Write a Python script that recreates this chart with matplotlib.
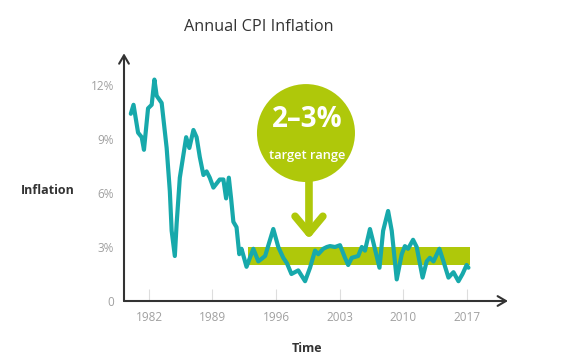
import matplotlib
matplotlib.use('Agg')
import matplotlib.pyplot as plt
from matplotlib.patches import Ellipse, Rectangle

plt.rcParams['font.family'] = ['Open Sans', 'DejaVu Sans']

# CPI inflation (year, percent)
years = [1980.0, 1980.3, 1980.8, 1981.2, 1981.45, 1981.9, 1982.3, 1982.6, 1982.85, 1983.4,
         1983.95, 1984.3, 1984.5, 1984.85, 1985.05, 1985.4, 1986.1, 1986.45, 1986.9, 1987.25,
         1987.6, 1988.0, 1988.35, 1988.7, 1989.1, 1989.8, 1990.2, 1990.5, 1990.8, 1991.05,
         1991.3, 1991.65, 1991.95, 1992.2, 1992.75, 1993.5, 1994.05, 1994.8, 1995.7, 1996.25,
         1996.8, 1997.2, 1997.7, 1998.45, 1999.2, 1999.75, 2000.3, 2000.65, 2001.2, 2001.6,
         2001.95, 2002.5, 2003.05, 2003.6, 2003.95, 2004.35, 2005.05, 2005.45, 2005.8, 2006.35,
         2006.7, 2007.4, 2007.8, 2008.35, 2008.75, 2009.3, 2009.85, 2010.2, 2010.55, 2011.1,
         2011.5, 2012.15, 2012.6, 2012.95, 2013.35, 2014.0, 2014.45, 2015.0, 2015.55, 2016.1,
         2016.55, 2017.0, 2017.2]
inflation = [10.4, 10.9, 9.35, 9.1, 8.4, 10.7, 10.9, 12.3, 11.4, 11.0,
             8.5, 6.1, 3.9, 2.5, 4.3, 6.85, 9.1, 8.5, 9.5, 9.1,
             8.0, 7.0, 7.2, 6.85, 6.3, 6.75, 6.75, 5.7, 6.85, 5.7,
             4.4, 4.1, 2.6, 2.9, 1.9, 2.9, 2.2, 2.5, 4.0, 3.0,
             2.4, 2.1, 1.5, 1.7, 1.1, 1.85, 2.8, 2.6, 2.9, 3.0,
             3.05, 3.0, 3.1, 2.4, 2.0, 2.4, 2.5, 3.0, 2.8, 4.0,
             3.3, 1.85, 3.9, 5.0, 3.9, 1.2, 2.6, 3.05, 2.9, 3.4,
             3.0, 1.3, 2.2, 2.4, 2.2, 2.9, 2.2, 1.3, 1.6, 1.1,
             1.5, 2.0, 1.85]

target_low, target_high = 2, 3
band_start, band_end = 1992.9, 2017.4

xticks = [1982, 1989, 1996, 2003, 2010, 2017]
yticks = [0, 3, 6, 9, 12]
ylabels = ['0', '3%', '6%', '9%', '12%']

teal = '#17a9ab'
lime = '#afc80a'
dark = '#333333'
grey = '#a0a0a0'

fig = plt.figure(figsize=(5.8, 3.61), dpi=100)
ax = fig.add_axes([124/580, 60/361, 384/580, 247.7/361])
ax.set_xlim(1979.25, 2021.56)
ax.set_ylim(0, 13.76)

# target band
ax.add_patch(Rectangle((band_start, target_low), band_end - band_start,
                       target_high - target_low, color=lime, lw=0, zorder=1))
ax.plot(years, inflation, color=teal, lw=3, solid_joinstyle='round',
        solid_capstyle='round', zorder=2)

# bubble and arrow
ax.add_patch(Ellipse((1999.3, 9.33), 10.8, 5.44, color=lime, lw=0, zorder=3))
ax.annotate('', xy=(1999.63, 3.45), xytext=(1999.63, 7.0),
            arrowprops=dict(arrowstyle='->,head_length=1.2,head_width=1.0',
                            color=lime, lw=5.5, shrinkA=0, shrinkB=0),
            zorder=3)
ax.text(1999.4, 10.1, '2\u20133%', color='white', fontsize=20, fontweight='bold',
        ha='center', va='center', zorder=4)
ax.text(1999.4, 8.1, 'target range', color='white', fontsize=9.3, fontweight='semibold',
        ha='center', va='center', zorder=4)

# axes with arrow heads
for s in ax.spines.values():
    s.set_visible(False)
ax.annotate('', xy=(1, 0), xytext=(0, 0), xycoords='axes fraction',
            arrowprops=dict(arrowstyle='->,head_length=0.6,head_width=0.35',
                            color=dark, lw=1.5, shrinkA=0, shrinkB=0),
            annotation_clip=False)
ax.annotate('', xy=(0, 1), xytext=(0, 0), xycoords='axes fraction',
            arrowprops=dict(arrowstyle='->,head_length=0.6,head_width=0.35',
                            color=dark, lw=1.5, shrinkA=0, shrinkB=0),
            annotation_clip=False)

ax.set_xticks(xticks)
ax.set_xticklabels([str(y) for y in xticks])
ax.set_yticks(yticks)
ax.set_yticklabels(ylabels)
ax.tick_params(axis='x', direction='in', length=8.5, width=0.8, color='#dddddd',
               labelsize=8.5, labelcolor=grey, pad=7)
ax.tick_params(axis='y', length=0, labelsize=8.5, labelcolor=grey, pad=7)

fig.text(259/580, 1 - 27/361, 'Annual CPI Inflation', fontsize=11.7, color=dark,
         ha='center', va='center')
fig.text(48/580, 1 - 190.5/361, 'Inflation', fontsize=9, fontweight='bold',
         color=dark, ha='center', va='center')
fig.text(307/580, 1 - 349/361, 'Time', fontsize=9, fontweight='bold',
         color=dark, ha='center', va='center')

fig.savefig('out.png', dpi=100)
